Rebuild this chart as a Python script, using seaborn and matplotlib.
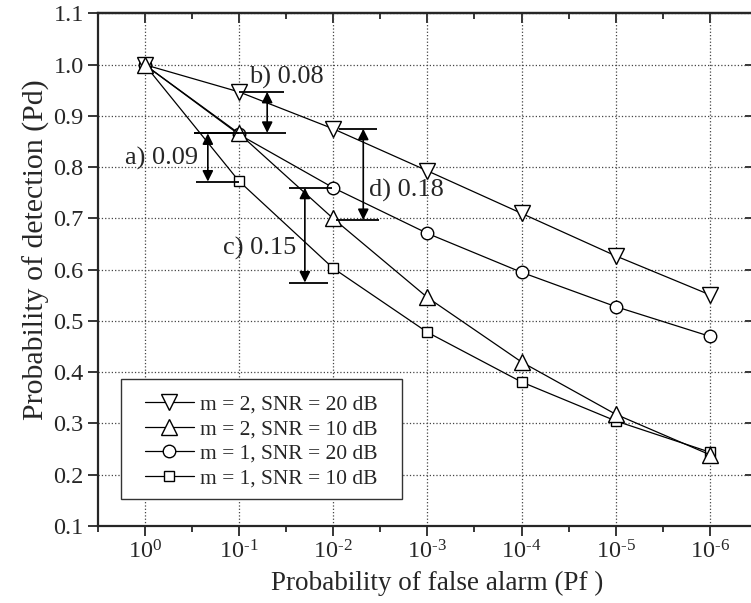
import matplotlib
matplotlib.use("Agg")
import matplotlib.pyplot as plt
import matplotlib.ticker as mticker
from matplotlib.patches import Rectangle
import seaborn as sns
import numpy as np
import pandas as pd

# data
pf = [1e0, 1e-1, 1e-2, 1e-3, 1e-4, 1e-5, 1e-6]
pd_m2_snr20 = [1.0, 0.947, 0.875, 0.793, 0.710, 0.627, 0.551]
pd_m2_snr10 = [1.0, 0.866, 0.700, 0.546, 0.420, 0.318, 0.239]
pd_m1_snr20 = [1.0, 0.864, 0.760, 0.671, 0.595, 0.528, 0.470]
pd_m1_snr10 = [1.0, 0.773, 0.603, 0.478, 0.381, 0.305, 0.244]

series_labels = ["m = 2, SNR = 20 dB", "m = 2, SNR = 10 dB",
                 "m = 1, SNR = 20 dB", "m = 1, SNR = 10 dB"]
series_markers = ["v", "^", "o", "s"]
series_sizes = [11, 11, 9, 7]

# gap annotations: label, arrow x (log10 Pf), top, bottom, text x, text y
ann_labels = ["a) 0.09", "b) 0.08", "c) 0.15", "d) 0.18"]
ann_x = [-0.67, -1.30, -1.70, -2.32]
ann_top = [0.866, 0.947, 0.760, 0.875]
ann_bottom = [0.772, 0.867, 0.575, 0.697]
ann_top_span = [(-0.52, -1.0), (-1.0, -1.48), (-1.53, -1.99), (-2.06, -2.47)]
ann_bot_span = [(-0.54, -1.0), (-0.52, -1.50), (-1.53, -1.95), (-2.03, -2.49)]
ann_text_x = [-0.57, -1.11, -1.61, -2.38]
ann_text_y = [0.818, 0.975, 0.642, 0.755]
ann_ha = ["right", "left", "right", "left"]

sns.set_theme(style="ticks")
plt.rcParams["font.family"] = ["Liberation Serif", "DejaVu Serif"]
plt.rcParams["mathtext.fontset"] = "custom"
plt.rcParams["mathtext.rm"] = "Liberation Serif"
plt.rcParams["mathtext.it"] = "Liberation Serif:italic"
plt.rcParams["axes.unicode_minus"] = False

fig = plt.figure(figsize=(7.51, 6.03), dpi=100)
ax = fig.add_axes([0.130, 0.1277, 0.878, 0.850])

all_series = [pd_m2_snr20, pd_m2_snr10, pd_m1_snr20, pd_m1_snr10]
df = pd.DataFrame({
    "Pf": pf * 4,
    "Pd": sum(all_series, []),
    "series": np.repeat(series_labels, len(pf)),
})

handles = {}
# draw squares first so the triangles sit on top like in the original
for i in [3, 2, 0, 1]:
    sub = df[df["series"] == series_labels[i]]
    sns.lineplot(data=sub, x="Pf", y="Pd", ax=ax, color="black", lw=0.9,
                 marker=series_markers[i], markersize=series_sizes[i],
                 markerfacecolor="white", markeredgecolor="black",
                 markeredgewidth=1.0, label=series_labels[i], legend=False)
    handles[i] = ax.lines[-1]


def pow_label(v, pos):
    e = int(round(np.log10(v)))
    if e < 0:
        return r"$10^{\text{-}%d}$" % (-e)
    return r"$10^{%d}$" % e


ax.set_xscale("log")
ax.set_xlim(10 ** 0.5, 10 ** -6.5)
ax.set_ylim(0.1, 1.1)
ax.set_yticks(np.arange(0.1, 1.11, 0.1))
ax.yaxis.set_major_formatter(mticker.FormatStrFormatter("%.1f"))
ax.set_xticks(pf)
ax.xaxis.set_major_formatter(mticker.FuncFormatter(pow_label))
minor_pos = [10 ** (-k - 0.5) for k in range(-1, 7)]
ax.xaxis.set_minor_locator(mticker.FixedLocator(minor_pos))
ax.xaxis.set_minor_formatter(mticker.NullFormatter())

ax.grid(True, which="major", ls=":", color="#444444", lw=0.9)
ax.tick_params(axis="both", which="major", direction="out", length=7, width=1.3,
               labelsize=17.5, pad=3)
ax.tick_params(axis="x", which="minor", direction="out", length=4, width=1.3)
for s in ax.spines.values():
    s.set_linewidth(1.6)

secx = ax.secondary_xaxis("top")
secx.set_xticks(pf)
secx.xaxis.set_minor_locator(mticker.FixedLocator(minor_pos))
secx.tick_params(which="major", direction="in", length=7, width=1.3, labeltop=False)
secx.tick_params(which="minor", direction="in", length=4, width=1.3)
secx.spines["top"].set_linewidth(1.6)
secy = ax.secondary_yaxis("right")
secy.set_yticks(np.arange(0.1, 1.11, 0.1))
secy.tick_params(direction="in", length=9, width=1.3, labelright=False)

ax.set_xlabel("Probability of false alarm (Pf )", fontsize=19.5)
ax.xaxis.set_label_coords(0.515, -0.088)
ax.set_ylabel("Probability of detection (Pd)", fontsize=21.5)
ax.yaxis.set_label_coords(-0.072, 0.54)

# gap markers
for i in range(len(ann_labels)):
    x = 10 ** ann_x[i]
    ax.hlines(ann_top[i], 10 ** ann_top_span[i][0], 10 ** ann_top_span[i][1],
              color="black", lw=1.3, zorder=5)
    ax.hlines(ann_bottom[i], 10 ** ann_bot_span[i][0], 10 ** ann_bot_span[i][1],
              color="black", lw=1.3, zorder=5)
    ax.annotate("", xy=(x, ann_top[i]), xytext=(x, ann_bottom[i]),
                arrowprops=dict(arrowstyle="<|-|>", color="black", lw=1.2,
                                mutation_scale=16, shrinkA=0, shrinkB=0),
                zorder=5)
    ax.text(10 ** ann_text_x[i], ann_text_y[i], ann_labels[i], fontsize=19,
            ha=ann_ha[i], va="center", zorder=6)

# legend box drawn separately so the padding can differ per side
ax.add_patch(Rectangle((0.0353, 0.052), 0.4263, 0.234, transform=ax.transAxes,
                       facecolor="white", edgecolor="#333333", lw=1.0, zorder=4.5))
leg = ax.legend([handles[i] for i in range(4)], series_labels,
                loc="lower left", bbox_to_anchor=(0.0717, 0.074), borderaxespad=0,
                fontsize=15.5, frameon=False, handlelength=2.28, handletextpad=0.28,
                labelspacing=0.2, borderpad=0)

fig.savefig("out.png", dpi=100)
